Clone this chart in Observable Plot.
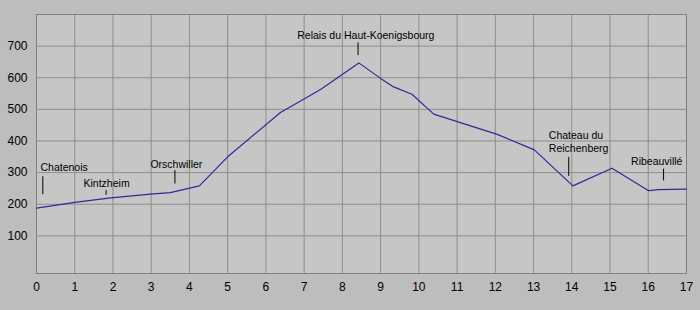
<!DOCTYPE html>
<html>
<head>
<meta charset="utf-8">
<script src="https://cdn.jsdelivr.net/npm/d3@7"></script>
<script src="https://cdn.jsdelivr.net/npm/@observablehq/plot@0.6"></script>
<style>
  html, body { margin: 0; padding: 0; background: #bdbdbd; }
  #chart svg { display: block; }
</style>
</head>
<body>
<div id="chart"></div>
<script>
// Elevation profile: distance (km) vs altitude (m)
const distance = [0, 1, 1.94, 2.98, 3.5, 4.26, 5.0, 6.38, 7.43, 8.43, 9.0, 9.34, 9.82, 10.39, 12.05, 13.02, 14.03, 15.05, 16.01, 16.27, 17];
const altitude = [188, 206, 220, 232, 237, 258, 350, 490, 563, 647, 598, 571, 548, 485, 421, 372, 258, 314, 243, 246, 248];

const xTicks = [0, 1, 2, 3, 4, 5, 6, 7, 8, 9, 10, 11, 12, 13, 14, 15, 16, 17];
const yTicks = [100, 200, 300, 400, 500, 600, 700];

// Place annotations
const placeNames = ["Chatenois", "Kintzheim", "Orschwiller", "Relais du Haut-Koenigsbourg", "Chateau du\nReichenberg", "Ribeauvillé"];
const placeTickX = [0.165, 1.82, 3.62, 8.41, 13.92, 16.40];
const placeTickLow = [230, 229, 264, 670, 288, 274];
const placeTickHigh = [287, 243, 306, 710, 348, 311];
const placeLabelX = [0.105, 1.23, 2.98, 6.82, 13.40, 15.55];
const placeLabelY = [318, 268, 328, 735, 400, 337];

const profile = distance.map((d, i) => ({d, a: altitude[i]}));
const places = placeNames.map((n, i) => ({
  name: n, tx: placeTickX[i], lo: placeTickLow[i], hi: placeTickHigh[i],
  lx: placeLabelX[i], ly: placeLabelY[i]
}));

const chart = Plot.plot({
  width: 700,
  height: 310,
  marginLeft: 36,
  marginTop: 14,
  marginRight: 14,
  marginBottom: 37,
  style: {background: "#bdbdbd", fontFamily: "'Liberation Sans', Arial, sans-serif", color: "#000"},
  x: {domain: [0, 17]},
  y: {domain: [-19, 800]},
  marks: [
    Plot.frame({fill: "#c6c6c6", stroke: null}),
    Plot.ruleX(xTicks, {stroke: "#8e8e8e", strokeWidth: 1}),
    Plot.ruleY(yTicks, {stroke: "#8e8e8e", strokeWidth: 1}),
    Plot.frame({stroke: "#7f7f7f", strokeWidth: 1}),
    Plot.axisX(xTicks, {tickSize: 0, tickPadding: 9, fontSize: 12, label: null, fill: "#000"}),
    Plot.axisY(yTicks, {tickSize: 0, tickPadding: 9, fontSize: 12, label: null, fill: "#000"}),
    Plot.line(profile, {x: "d", y: "a", stroke: "#2b2b9c", strokeWidth: 1.2}),
    Plot.ruleX(places, {x: "tx", y1: "lo", y2: "hi", stroke: "#000", strokeWidth: 1}),
    Plot.text(places, {x: "lx", y: "ly", text: "name", textAnchor: "start", fontSize: 10.5, lineHeight: 1.28, fill: "#000"})
  ]
});
document.getElementById("chart").appendChild(chart);
</script>
</body>
</html>
